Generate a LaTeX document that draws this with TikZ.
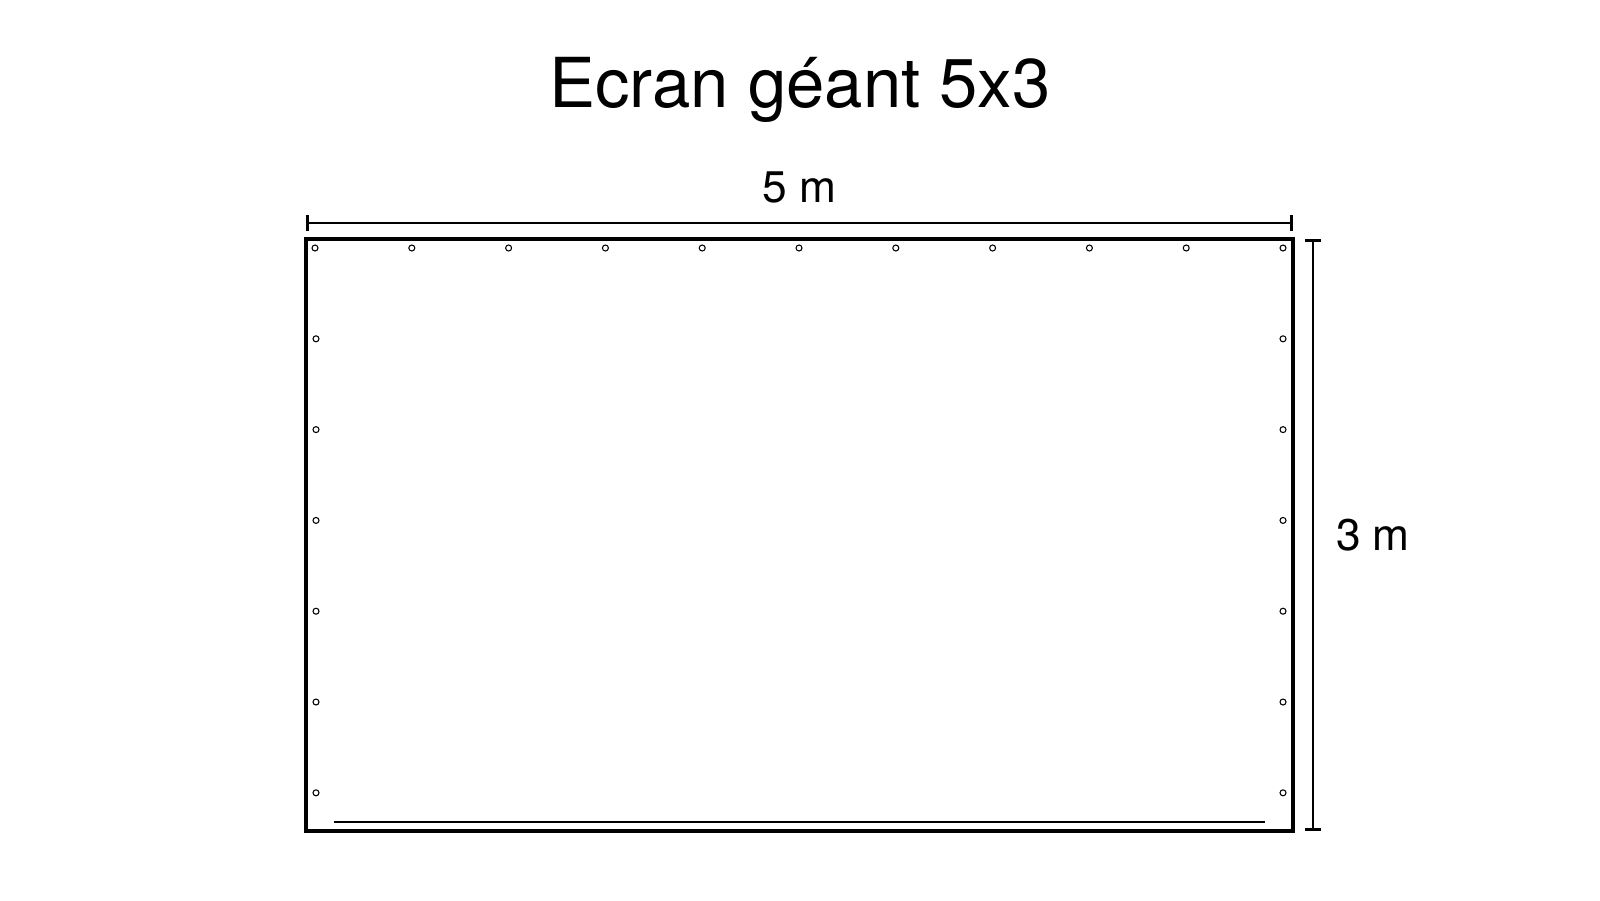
\documentclass[tikz,border=0pt]{standalone}
\usepackage{fontspec}
\setmainfont{TeX Gyre Heros}
\usetikzlibrary{positioning,arrows.meta}

\tikzset{
  screen/.style={rectangle, draw, line width=0.9pt, inner sep=0pt, outer sep=0pt,
                 minimum width=9.87cm, minimum height=5.92cm},
  grommet/.style={circle, draw, line width=0.3pt, inner sep=0pt, minimum size=0.06cm},
  dimline/.style={line width=0.75pt, {Bar[width=4.5pt]}-{Bar[width=4.5pt]}},
  dimlabel/.style={font=\fontsize{12.6}{15}\selectfont}
}

\begin{document}
\begin{tikzpicture}
    \useasboundingbox (0,0) rectangle (16,-9);

                % Title
                \node (title) at (8,-0.9) {\fontsize{19.6}{24}\selectfont Ecran géant 5x3};

                % Screen
                \node (screen) [screen] at (7.995,-5.35) {};
                \draw[line width=0.45pt] ([xshift=0.28cm,yshift=0.09cm]screen.south west)
                    -- ([xshift=-0.28cm,yshift=0.09cm]screen.south east);

                % Grommets
                \foreach \i in {0,...,10}
                    \node (top\i) [grommet] at (3.15+0.968*\i,-2.48) {};
                \foreach \j in {1,...,6} {
                    \node (left\j) [grommet] at (3.16,-2.48-0.908*\j) {};
                    \node (right\j) [grommet] at (12.83,-2.48-0.908*\j) {};
                }

                % Dimensions
                \coordinate (wa) at ([yshift=0.16cm]screen.north west);
                \coordinate (wb) at ([yshift=0.16cm]screen.north east);
                \draw[dimline] (wa) -- (wb) node[midway, above=0.07cm, dimlabel] (width) {5 m};
                \coordinate (ha) at ([xshift=0.2cm]screen.north east);
                \coordinate (hb) at ([xshift=0.2cm]screen.south east);
                \draw[dimline] (ha) -- (hb) node[midway, right=0.1cm, dimlabel] (height) {3 m};

\end{tikzpicture}
\end{document}
